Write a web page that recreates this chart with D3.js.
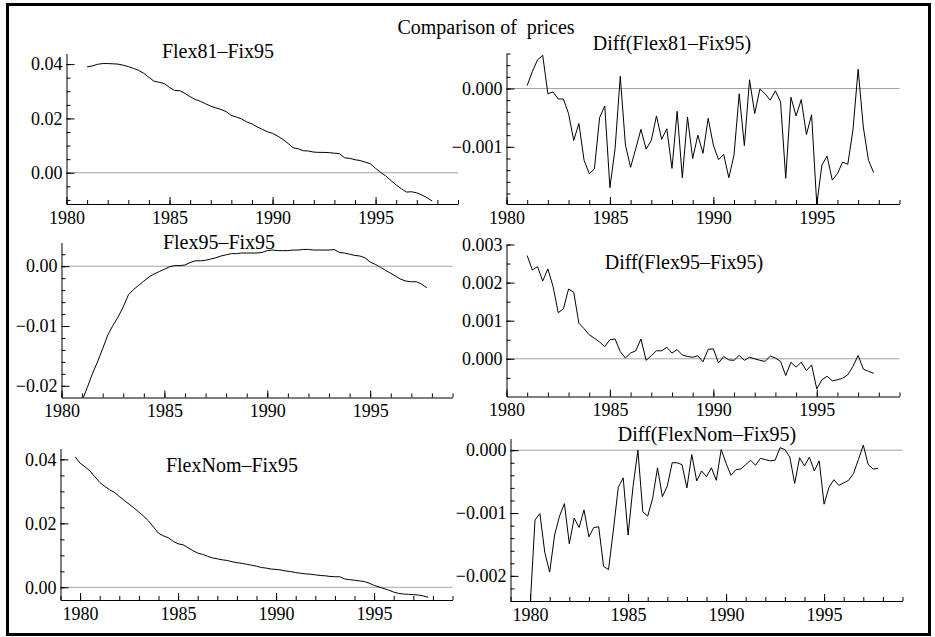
<!DOCTYPE html>
<html>
<head>
<meta charset="utf-8">
<script src="https://cdn.jsdelivr.net/npm/d3@7"></script>
<style>
  body { margin: 0; background: #fff; }
  svg { font-family: "Liberation Serif", "Times New Roman", serif; }
</style>
</head>
<body>
<svg width="935" height="637"></svg>
<script>
// Quarterly series
var flex81 = [0.0390,0.0393,0.0399,0.0402,0.0402,0.0401,0.0400,0.0396,0.0391,0.0384,
  0.0377,0.0366,0.0351,0.0337,0.0333,0.0328,0.0314,0.0303,0.0302,0.0292,
  0.0280,0.0270,0.0263,0.0254,0.0245,0.0239,0.0233,0.0225,0.0211,0.0205,
  0.0198,0.0187,0.0180,0.0169,0.0160,0.0151,0.0145,0.0135,0.0123,0.0108,
  0.0092,0.0088,0.0081,0.0080,0.0076,0.0075,0.0075,0.0074,0.0072,0.0070,
  0.0055,0.0053,0.0048,0.0045,0.0039,0.0033,0.0016,0.0001,-0.0012,-0.0029,
  -0.0045,-0.0059,-0.0071,-0.0070,-0.0074,-0.0082,-0.0092,-0.0104];

var diff81 = [0.00005,0.00029,0.00049,0.00057,-0.00009,-0.00006,-0.00018,-0.00018,-0.00043,-0.00089,
  -0.00060,-0.00123,-0.00146,-0.00138,-0.00050,-0.00030,-0.00170,-0.00103,0.00021,-0.00097,
  -0.00135,-0.00103,-0.00070,-0.00104,-0.00089,-0.00047,-0.00087,-0.00069,-0.00137,-0.00039,
  -0.00153,-0.00049,-0.00120,-0.00080,-0.00111,-0.00051,-0.00097,-0.00122,-0.00113,-0.00153,
  -0.00114,-0.00009,-0.00098,0.00015,-0.00043,-0.00001,-0.00009,-0.00020,-0.00004,-0.00023,
  -0.00154,-0.00015,-0.00047,-0.00019,-0.00079,-0.00045,-0.00199,-0.00131,-0.00116,-0.00157,
  -0.00146,-0.00126,-0.00130,-0.00071,0.00033,-0.00066,-0.00123,-0.00144];

var flex95 = [-0.0225,-0.0203,-0.0180,-0.0160,-0.0138,-0.0115,-0.0099,-0.0085,-0.0068,-0.0048,
  -0.0039,-0.0032,-0.0025,-0.0018,-0.0013,-0.0009,-0.0005,-0.0001,0.0001,0.0001,
  0.0002,0.0006,0.0009,0.0009,0.0010,0.0012,0.0014,0.0017,0.0019,0.0021,
  0.0021,0.0022,0.0022,0.0022,0.0022,0.0023,0.0026,0.0027,0.0026,0.0026,
  0.0026,0.0027,0.0027,0.0028,0.0028,0.0027,0.0027,0.0027,0.0027,0.0028,
  0.0023,0.0022,0.0020,0.0018,0.0017,0.0014,0.0007,0.0003,-0.0002,-0.0007,
  -0.0012,-0.0017,-0.0022,-0.0025,-0.0026,-0.0026,-0.0030,-0.0036];

var diff95 = [0.00271,0.00233,0.00242,0.00204,0.00236,0.00190,0.00121,0.00131,0.00183,0.00175,
  0.00093,0.00079,0.00063,0.00054,0.00044,0.00032,0.00050,0.00052,0.00019,0.00002,
  0.00015,0.00021,0.00052,-0.00004,0.00008,0.00021,0.00021,0.00030,0.00015,0.00024,
  0.00010,0.00006,0.00004,0.00008,-0.00008,0.00025,0.00026,-0.00011,0.00006,-0.00003,
  -0.00004,0.00009,-0.00004,0.00004,0.00000,-0.00004,-0.00007,0.00007,0.00002,-0.00007,
  -0.00044,-0.00009,-0.00022,-0.00009,-0.00031,-0.00016,-0.00079,-0.00055,-0.00046,-0.00058,
  -0.00055,-0.00051,-0.00042,-0.00020,0.00009,-0.00027,-0.00033,-0.00038];

var flexNom = [0.0408,0.0388,0.0377,0.0364,0.0346,0.0328,0.0316,0.0305,0.0297,0.0284,
  0.0272,0.0260,0.0248,0.0235,0.0222,0.0207,0.0188,0.0169,0.0161,0.0155,
  0.0144,0.0136,0.0133,0.0124,0.0115,0.0107,0.0103,0.0097,0.0092,0.0089,
  0.0086,0.0084,0.0080,0.0077,0.0075,0.0072,0.0069,0.0066,0.0062,0.0060,
  0.0057,0.0056,0.0054,0.0051,0.0049,0.0046,0.0044,0.0042,0.0041,0.0039,
  0.0037,0.0036,0.0034,0.0033,0.0033,0.0026,0.0024,0.0022,0.0020,0.0018,
  0.0013,0.0006,0.0001,-0.0004,-0.0009,-0.0015,-0.0019,-0.0021,-0.0022,-0.0023,
  -0.0024,-0.0027,-0.0031];

var diffNom = [-0.00250,-0.00111,-0.00101,-0.00163,-0.00194,-0.00135,-0.00105,-0.00085,-0.00149,-0.00108,
  -0.00123,-0.00095,-0.00138,-0.00123,-0.00122,-0.00185,-0.00190,-0.00127,-0.00059,-0.00044,
  -0.00135,-0.00058,0.00000,-0.00098,-0.00105,-0.00077,-0.00028,-0.00074,-0.00057,-0.00020,
  -0.00020,-0.00023,-0.00060,-0.00007,-0.00049,-0.00033,-0.00042,-0.00028,-0.00048,0.00001,
  -0.00021,-0.00040,-0.00031,-0.00030,-0.00023,-0.00016,-0.00024,-0.00013,-0.00015,-0.00017,
  -0.00016,0.00004,0.00001,-0.00011,-0.00053,-0.00012,-0.00025,-0.00011,-0.00033,-0.00017,
  -0.00086,-0.00059,-0.00047,-0.00056,-0.00052,-0.00048,-0.00037,-0.00015,0.00008,-0.00023,
  -0.00030,-0.00029];

// first quarter of each series
var starts = [1981, 1981, 1981, 1981, 1979.75, 1980];
var titles = ["Flex81\u2013Fix95", "Diff(Flex81\u2013Fix95)", "Flex95\u2013Fix95",
              "Diff(Flex95\u2013Fix95)", "FlexNom\u2013Fix95", "Diff(FlexNom\u2013Fix95)"];
var yearTicks = [1980, 1985, 1990, 1995];

var serif = "Liberation Serif";
var svg = d3.select("svg");

// outer frame
svg.append("rect")
  .attr("x", 7.5).attr("y", 4.5)
  .attr("width", 922).attr("height", 630)
  .attr("fill", "none").attr("stroke", "#000").attr("stroke-width", 3);

svg.append("text")
  .attr("x", 486).attr("y", 34)
  .attr("text-anchor", "middle")
  .attr("font-family", serif)
  .attr("font-size", 20)
  .style("white-space", "pre")
  .text("Comparison of  prices");

// layout of each panel
var panels = [
  {data: flex81, left: 66.5, right: 458, top: 53.5, bottom: 204, xd: [1980, 1999], yd: [-0.0115, 0.0439],
   major: [0, 0.02, 0.04], minor: 0.005, fmt: ".2f", tx: 218, ty: 58},
  {data: diff81, left: 506.5, right: 899.5, top: 53.5, bottom: 204, xd: [1980, 1999], yd: [-0.00198, 0.0006],
   major: [-0.001, 0], minor: 0.0002, fmt: ".3f", tx: 672, ty: 50},
  {data: flex95, left: 61.5, right: 452.5, top: 242.5, bottom: 397.5, xd: [1980, 1999], yd: [-0.02195, 0.00396],
   major: [-0.02, -0.01, 0], minor: 0.002, fmt: ".2f", tx: 219, ty: 249},
  {data: diff95, left: 506.5, right: 899.5, top: 244.5, bottom: 396.5, xd: [1980, 1999], yd: [-0.00099, 0.003],
   major: [0, 0.001, 0.002, 0.003], minor: 0.0005, fmt: ".3f", tx: 684, ty: 269},
  {data: flexNom, left: 60.5, right: 452.5, top: 448.5, bottom: 600, xd: [1979, 1999], yd: [-0.00397, 0.0434],
   major: [0, 0.02, 0.04], minor: 0.005, fmt: ".2f", tx: 232, ty: 472},
  {data: diffNom, left: 510.5, right: 902.5, top: 438.5, bottom: 601, xd: [1979, 1999], yd: [-0.0024, 0.000186],
   major: [-0.002, -0.001, 0], minor: 0.0002, fmt: ".3f", tx: 707, ty: 441}
];

function styleAxis(a) {
  a.attr("font-size", 18).attr("font-family", serif);
  a.selectAll("text").attr("fill", "#000");
}

panels.forEach(function(p, k) {
  var x = d3.scaleLinear().domain(p.xd).range([p.left, p.right]),
      y = d3.scaleLinear().domain(p.yd).range([p.bottom, p.top]),
      g = svg.append("g");

  var pts = p.data.map(function(v, i) {
    return {t: starts[k] + i / 4, v: v};
  });

  g.append("clipPath").attr("id", "clip" + k)
    .append("rect")
    .attr("x", p.left).attr("y", p.top)
    .attr("width", p.right - p.left).attr("height", p.bottom - p.top);

  // zero reference
  g.append("line")
    .attr("x1", p.left).attr("x2", p.right)
    .attr("y1", y(0)).attr("y2", y(0))
    .attr("stroke", "#a3a3a3").attr("stroke-width", 1);

  // minor ticks
  var ym = d3.range(Math.ceil(p.yd[0] / p.minor - 1e-6) * p.minor, p.yd[1] + 1e-9, p.minor);
  g.append("g")
    .attr("transform", "translate(" + p.left + ",0)")
    .call(d3.axisLeft(y).tickValues(ym).tickSize(-4).tickFormat(""))
    .call(function(a) { a.select(".domain").remove(); });
  g.append("g")
    .attr("transform", "translate(0," + p.bottom + ")")
    .call(d3.axisBottom(x).tickValues(d3.range(p.xd[0], p.xd[1] + 1)).tickSize(-4).tickFormat(""))
    .call(function(a) { a.select(".domain").remove(); });

  // major axes
  g.append("g")
    .attr("transform", "translate(" + p.left + ",0)")
    .call(d3.axisLeft(y).tickValues(p.major).tickSizeInner(-8).tickSizeOuter(0)
      .tickPadding(4).tickFormat(d3.format(p.fmt)))
    .call(styleAxis);
  g.append("g")
    .attr("transform", "translate(0," + p.bottom + ")")
    .call(d3.axisBottom(x).tickValues(yearTicks).tickSizeInner(-7).tickSizeOuter(0)
      .tickPadding(7).tickFormat(d3.format("d")))
    .call(styleAxis);

  g.append("path")
    .datum(pts)
    .attr("clip-path", "url(#clip" + k + ")")
    .attr("fill", "none").attr("stroke", "#000").attr("stroke-width", 1)
    .attr("d", d3.line().x(function(d) { return x(d.t); }).y(function(d) { return y(d.v); }));

  g.append("text")
    .attr("x", p.tx).attr("y", p.ty)
    .attr("text-anchor", "middle")
    .attr("font-family", serif)
    .attr("font-size", 20)
    .text(titles[k]);
});
</script>
</body>
</html>
